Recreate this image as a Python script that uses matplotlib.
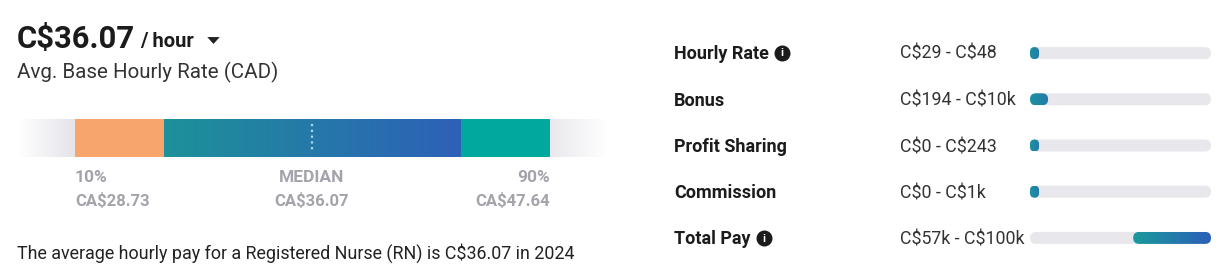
import numpy as np
import matplotlib
matplotlib.use("Agg")
import matplotlib.pyplot as plt
from matplotlib.colors import to_rgb, LinearSegmentedColormap
from matplotlib.patches import FancyBboxPatch

plt.rcParams['font.family'] = ['Roboto', 'DejaVu Sans']
plt.rcParams['text.parse_math'] = False

# headline
avg_rate = "C$36.07"
rate_unit = "/ hour"
subtitle = "Avg. Base Hourly Rate (CAD)"
footnote = "The average hourly pay for a Registered Nurse (RN) is C$36.07 in 2024"

# percentile bar (positions along the bar, 0 = 10th pct, 1 = 90th pct)
pct_names = ["10%", "MEDIAN", "90%"]
pct_values = ["CA$28.73", "CA$36.07", "CA$47.64"]
pct_pos = [0.0, 0.5, 1.0]
band_edges = [0.0, 0.1875, 0.8125, 1.0]

# pay breakdown rows
row_labels = ["Hourly Rate", "Bonus", "Profit Sharing", "Commission", "Total Pay"]
row_ranges = ["C$29 - C$48", "C$194 - C$10k", "C$0 - C$243", "C$0 - C$1k", "C$57k - C$100k"]
row_info = [True, False, False, False, True]
fill_start = [0.0, 0.0, 0.0, 0.0, 0.57]
fill_end = [0.05, 0.10, 0.05, 0.05, 1.0]

W, H = 1220, 269
fig = plt.figure(figsize=(W / 100, H / 100), dpi=100)


def px_axes(x0, y0, x1, y1):
    ax = fig.add_axes([x0 / W, 1 - y1 / H, (x1 - x0) / W, (y1 - y0) / H])
    ax.axis("off")
    return ax


def hgrad(c0, c1, n=256):
    a, b = np.array(to_rgb(c0)), np.array(to_rgb(c1))
    t = np.linspace(0, 1, n)[None, :, None]
    return a + (b - a) * t


bg = px_axes(0, 0, W, H)
bg.set_xlim(0, W)
bg.set_ylim(H, 0)

# headline text
bg.text(17, 48, avg_rate, fontsize=22.3, fontweight="bold", color="#1b1b1b", va="baseline")
bg.text(140, 47, rate_unit, fontsize=14.5, fontweight="bold", color="#1b1b1b", va="baseline")
caret = [(-1, 0.55), (1, 0.55), (0, -0.55)]
bg.plot([213], [40], marker=caret, markersize=9, color="#222222", markeredgewidth=0)
bg.text(17, 78, subtitle, fontsize=14.8, color="#333333", va="baseline")
bg.text(17, 259, footnote, fontsize=12.9, color="#222222", va="baseline")

# percentile bar
left_px, right_px = 75, 550
fade = 57
bar = px_axes(left_px - fade, 119, right_px + fade, 157)
span = right_px - left_px
bar.imshow(hgrad("#ffffff", "#e4e4e9"), extent=(-fade / span, 0, 1, 0), aspect="auto")
bar.imshow(hgrad("#e9e9ed", "#ffffff"), extent=(1, 1 + fade / span, 1, 0), aspect="auto")
bar.barh(0.5, band_edges[1] - band_edges[0], left=band_edges[0], height=1, color="#f7a56c")
bar.imshow(hgrad("#1d9199", "#2e60b8"), extent=(band_edges[1], band_edges[2], 1, 0), aspect="auto")
bar.barh(0.5, band_edges[3] - band_edges[2], left=band_edges[2], height=1, color="#00a89e")
bar.plot([pct_pos[1]] * 2, [0.14, 0.85], color="#a6d9f2", lw=1.6, ls=(0, (1, 1.6)))
bar.set_xlim(-fade / span, 1 + fade / span)
bar.set_ylim(1, 0)

aligns = ["left", "center", "right"]
for name, val, p, ha in zip(pct_names, pct_values, pct_pos, aligns):
    x = left_px + p * span + (-1 if ha == "center" else 0)
    bg.text(x, 182, name, fontsize=12.5, fontweight="bold", color="#a3a3ab", ha=ha, va="baseline")
    bg.text(x, 206, val, fontsize=12, fontweight="bold", color="#a3a3ab", ha=ha, va="baseline")

# pay breakdown
centers = [53, 99.5, 146, 192, 238]
tx0, tx1 = 1030, 1211
top, bot = centers[0] - 23, centers[-1] + 23
rows = px_axes(tx0, top, tx1, bot)
n = len(row_labels)
xu = 1 / (tx1 - tx0)
yu = n / (bot - top)
aspect = yu / xu
bar_h = 12 * yu
cmap = LinearSegmentedColormap.from_list("pay", ["#1a9a9b", "#2c5fb9"])

renderer = fig.canvas.get_renderer()
for i, (lab, rng) in enumerate(zip(row_labels, row_ranges)):
    cy = centers[i]
    t = bg.text(674, cy + 6, lab, fontsize=13, fontweight="bold", color="#1b1b1b", va="baseline")
    bg.text(900, cy + 6, rng, fontsize=12.8, color="#333333", va="baseline")
    if row_info[i]:
        bb = t.get_window_extent(renderer)
        ix = bb.x1 + 13
        bg.plot([ix], [cy], marker="o", markersize=10.5, color="#1b1b1b")
        bg.text(ix, cy + 0.5, "i", fontsize=8, fontweight="bold", color="white", ha="center", va="center")

    track = FancyBboxPatch((0, i - bar_h / 2), 1, bar_h,
                           boxstyle="round,pad=0,rounding_size=%f" % (6 * xu),
                           mutation_aspect=aspect, fc="#e8e8ec", ec="none", zorder=1)
    rows.add_patch(track)
    w = fill_end[i] - fill_start[i]
    r = min(6, w / xu / 2) * xu
    fill = FancyBboxPatch((fill_start[i], i - bar_h / 2), w, bar_h,
                          boxstyle="round,pad=0,rounding_size=%f" % r,
                          mutation_aspect=aspect, fc="none", ec="none", zorder=1)
    rows.add_patch(fill)
    g0 = cmap(0.15 if w < 0.2 else 0.0)
    g1 = cmap(0.55 if w < 0.2 else 1.0)
    im = rows.imshow(hgrad(g0[:3], g1[:3]), extent=(fill_start[i], fill_end[i], i + bar_h / 2, i - bar_h / 2),
                     aspect="auto", zorder=2)
    im.set_clip_path(fill)

rows.set_xlim(0, 1)
rows.set_ylim(n - 0.5, -0.5)

fig.savefig("out.png", dpi=100)
